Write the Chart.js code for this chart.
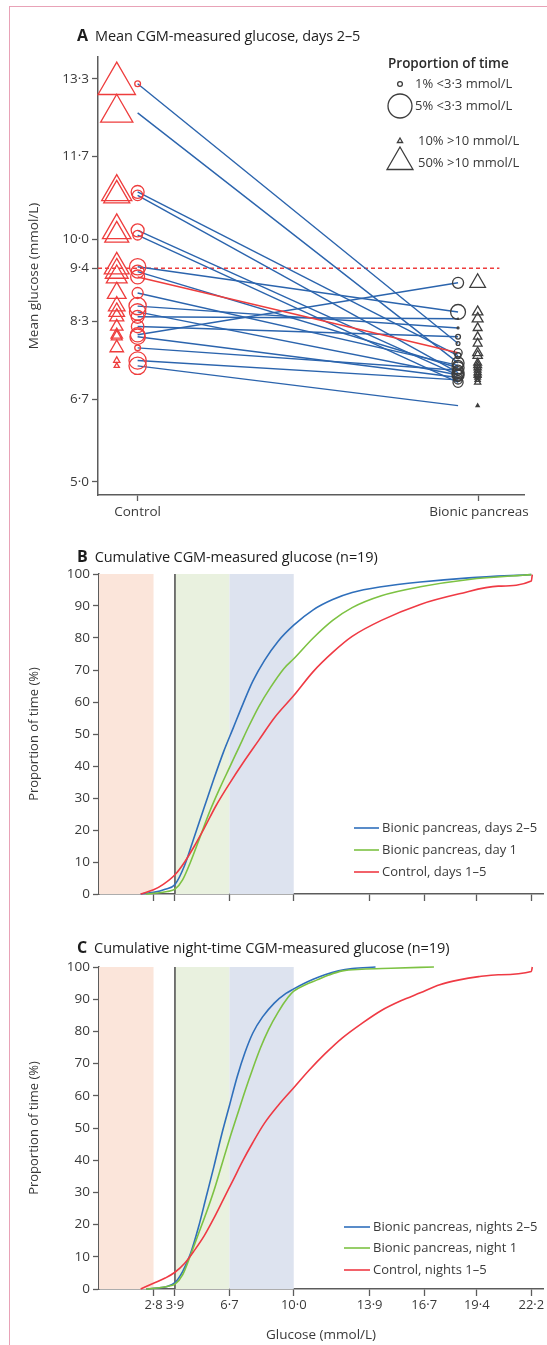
<!DOCTYPE html>
<html>
<head>
<meta charset="utf-8">
<script src="https://cdn.jsdelivr.net/npm/chart.js@4/dist/chart.umd.min.js"></script>
<style>
body{margin:0;background:#fff;width:547px;height:1345px;overflow:hidden;position:relative;font-family:"Open Sans",Lato,sans-serif;}
.frame{position:absolute;left:9px;top:6px;width:700px;height:1500px;border-left:1px solid #e8a2b7;border-top:1px solid #e8a2b7;}
canvas{position:absolute;left:0;}
.ttl{position:absolute;left:77px;font-size:14.5px;color:#1c1c1c;white-space:nowrap;line-height:18px;letter-spacing:-0.1px;}
.ttl b{font-size:16px;margin-right:7px;}
</style>
</head>
<body>
<div class="frame"></div>
<canvas id="cA" width="547" height="530" style="top:0"></canvas>
<canvas id="cB" width="547" height="355" style="top:560px"></canvas>
<canvas id="cC" width="547" height="395" style="top:950px"></canvas>
<div class="ttl" style="top:26px"><b>A</b>Mean CGM-measured glucose, days 2–5</div>
<div class="ttl" style="top:547px"><b>B</b>Cumulative CGM-measured glucose (n=19)</div>
<div class="ttl" style="top:938px"><b>C</b>Cumulative night-time CGM-measured glucose (n=19)</div>
<script>
// ---- panel A: one entry per participant ----
var ctrlMean  = [13.20, 12.60, 10.97, 10.90, 10.18, 10.08, 9.43, 9.33, 9.22, 8.89, 8.62, 8.50, 8.40, 8.20, 8.03, 7.99, 7.76, 7.50, 7.39];
var ctrlHypo  = [1.2, 0, 2.7, 2.2, 2.7, 2.0, 3.4, 2.7, 2.9, 2.3, 3.6, 3.4, 2.7, 2.6, 3.0, 3.2, 1.2, 3.6, 3.6];   // % time <3.3
var ctrlHyper = [72, 62, 58, 50, 55, 46, 48, 44, 40, 36, 32, 30, 27, 24, 22, 21, 26, 12, 10];               // % time >10
var bpMean    = [7.85, 7.45, 7.60, 7.25, 7.20, 7.05, 8.50, 7.35, 7.66, 7.40, 8.17, 7.20, 8.36, 7.99, 9.10, 7.15, 7.30, 7.10, 6.57];
var bpHypo    = [0.8, 2.5, 1.2, 2.5, 2.1, 2.1, 3.1, 2.5, 1.7, 2.1, 0.4, 2.5, 0.2, 1.0, 2.3, 1.7, 2.1, 1.7, 0];
var bpHyper   = [17, 15, 18, 14, 13, 12, 20, 14, 19, 15, 17, 13, 21, 16, 30, 11, 13, 10, 6];
var redIdx = 8;
var targetA = 9.4;
var yTicksA = [5.0, 6.7, 8.3, 9.4, 10.0, 11.7, 13.3];
var groupLabels = ['Control', 'Bionic pancreas'];
var legendHypo = [1, 5];
var legendHyper = [10, 50];

// ---- panels B and C: cumulative curves (glucose mmol/L, % of time) ----
var bDays25X = [2.14, 2.8, 3.4, 3.9, 4.4, 4.9, 5.4, 5.9, 6.4, 6.9, 7.4, 7.9, 8.5, 9.2, 10.0, 11.0, 12.0, 13.0, 14.5, 16.5, 19.0, 22.2];
var bDays25Y = [0, 0.5, 1.5, 3, 9, 18, 27, 36, 44.5, 52, 59.5, 66.5, 73, 79, 84, 88.8, 92, 94.2, 96, 97.5, 98.8, 99.8];
var bDay1X = [2.4, 3.0, 3.5, 3.9, 4.3, 4.7, 5.2, 5.7, 6.2, 6.7, 7.2, 7.7, 8.2, 8.8, 9.5, 10.0, 11.0, 12.0, 13.0, 14.5, 16.5, 19.0, 22.2];
var bDay1Y = [0, 0.3, 0.8, 1.5, 4.5, 10, 18, 26, 33, 39.5, 46, 52.5, 58.5, 64.5, 70.5, 73.5, 80, 85.5, 89.5, 93.2, 96, 98.3, 99.8];
var bCtrlX = [2.14, 2.8, 3.3, 3.9, 4.4, 4.9, 5.4, 6.0, 6.7, 7.4, 8.2, 9.0, 10.0, 11.0, 12.0, 13.0, 14.5, 16.5, 18.5, 20.5, 22.2, 22.25];
var bCtrlY = [0, 1.3, 3, 6, 10, 15, 20.5, 27.5, 34.5, 41, 48, 55, 62, 69.5, 75.5, 80.5, 85.5, 90.5, 93.8, 96.2, 97.8, 99.8];

var cNights25X = [2.42, 3.0, 3.5, 3.9, 4.3, 4.7, 5.1, 5.5, 5.9, 6.3, 6.7, 7.1, 7.5, 7.9, 8.4, 9.0, 9.6, 10.0, 10.5, 11.0, 11.6, 12.3, 13.0, 14.2];
var cNights25Y = [0, 0.3, 0.8, 2, 5.5, 11, 19, 28.5, 38, 48, 57, 66, 73.5, 79.5, 84.5, 88.8, 91.8, 93.2, 94.8, 96.2, 97.6, 98.8, 99.5, 100];
var cNight1X = [2.42, 3.0, 3.5, 3.9, 4.3, 4.7, 5.1, 5.5, 5.9, 6.3, 6.7, 7.1, 7.5, 7.9, 8.3, 8.7, 9.2, 9.7, 10.0, 10.6, 11.2, 11.8, 12.5, 13.5, 15.0, 17.2];
var cNight1Y = [0, 0.3, 0.8, 1.5, 4.5, 10.5, 17, 23.5, 30.5, 38.5, 46.5, 54, 61.5, 68.5, 75, 80.5, 86, 90.5, 92.5, 94.5, 96, 97.5, 98.8, 99.3, 99.6, 100];
var cCtrlX = [2.14, 2.8, 3.4, 3.9, 4.4, 4.9, 5.4, 5.9, 6.4, 6.9, 7.4, 7.9, 8.5, 9.2, 10.0, 10.8, 11.6, 12.5, 13.5, 14.5, 15.5, 16.5, 17.5, 18.5, 19.5, 20.5, 22.2, 22.25];
var cCtrlY = [0, 1.8, 3.4, 5.2, 8, 12, 16.5, 22, 28, 34, 40, 45.5, 51.5, 57, 62.5, 68, 73, 78, 82.5, 86.5, 89.5, 92, 94.5, 96, 97, 97.6, 98.6, 100];

var glucoseTicks = [2.8, 3.9, 6.7, 10.0, 13.9, 16.7, 19.4, 22.2];
var bandFrom = [0, 3.9, 6.7];
var bandTo = [2.8, 6.7, 10.0];
var lowLimit = 3.9;
var bLabels = ['Bionic pancreas, days 2–5', 'Bionic pancreas, day 1', 'Control, days 1–5'];
var cLabels = ['Bionic pancreas, nights 2–5', 'Bionic pancreas, night 1', 'Control, nights 1–5'];

// styles
var FONT = '"Open Sans", Lato, sans-serif';
var TXT = '#3a3a3a', AXIS = '#5c5c5c';
var BLUE = '#2b64ad', RED = '#ee3d3d', GREY = '#3d3d3d';
var curveColors = ['#2f6fbb', '#7dc243', '#ef3a44'];
var bandColors = ['#fbe5da', '#e9f1df', '#dde3ef'];

Chart.defaults.font.family = FONT;
Chart.defaults.color = TXT;
Chart.defaults.animation = false;
Chart.defaults.events = [];
Chart.defaults.plugins.legend.display = false;
Chart.defaults.plugins.tooltip.enabled = false;

function dot(v) { return v.toFixed(1).replace('.', '·'); }
function hypoR(p) { return p * 2.4; }
function hyperR(p) { return p * 0.3; }

// x positions of the marker columns in panel A (axis runs 0-100)
var xCtrlTri = 4.4, xCtrlCir = 9.3, xBpCir = 84.5, xBpTri = 89.1;
var groupTickPos = [9.3, 89.4];

function drawTri(ctx, x, y, r) {
  var a = 0;
  ctx.beginPath();
  for (var k = 0; k < 3; k++) {
    var px = x + Math.sin(a) * r, py = y - Math.cos(a) * r;
    if (k === 0) ctx.moveTo(px, py); else ctx.lineTo(px, py);
    a += Math.PI * 2 / 3;
  }
  ctx.closePath();
  ctx.stroke();
}

var legendA = {
  id: 'legendA',
  afterDraw: function(chart) {
    var ctx = chart.ctx;
    ctx.save();
    ctx.fillStyle = '#2a2a2a';
    ctx.textBaseline = 'middle';
    ctx.font = '600 13.5px ' + FONT;
    ctx.fillText('Proportion of time', 388, 64);
    ctx.font = '13px ' + FONT;
    ctx.fillStyle = TXT;
    ctx.strokeStyle = GREY;
    ctx.lineWidth = 1.3;
    var rows = [84, 106];
    legendHypo.forEach(function(p, i) {
      ctx.beginPath();
      ctx.arc(400, rows[i], hypoR(p), 0, Math.PI * 2);
      ctx.stroke();
      ctx.fillText(p + '% <3·3 mmol/L', 415, rows[i]);
    });
    var trows = [141, 163];
    legendHyper.forEach(function(p, i) {
      drawTri(ctx, 400, trows[i] - (i ? 1 : 0), hyperR(p));
      ctx.fillText(p + '% >10 mmol/L', 418, trows[i]);
    });
    ctx.restore();
  }
};

var dsA = [];
ctrlMean.forEach(function(v, i) {
  dsA.push({
    type: 'line',
    data: [{x: xCtrlCir, y: v}, {x: xBpCir, y: bpMean[i]}],
    borderColor: i === redIdx ? RED : BLUE,
    borderWidth: 1.4,
    pointRadius: 0,
    fill: false,
    order: i === redIdx ? 1 : 2
  });
});
dsA.push({
  type: 'line',
  data: [{x: 0, y: targetA}, {x: 94.2, y: targetA}],
  borderColor: RED, borderWidth: 1.3, borderDash: [4, 3], pointRadius: 0, order: 3
});
function markers(xPos, vals, sizes, style, col) {
  return {
    type: 'scatter',
    data: vals.map(function(v) { return {x: xPos, y: v}; }),
    pointStyle: style,
    pointRadius: sizes,
    pointBorderColor: col,
    pointBackgroundColor: 'rgba(0,0,0,0)',
    pointBorderWidth: 1.3,
    clip: false,
    order: 0
  };
}
dsA.push(markers(xCtrlCir, ctrlMean, ctrlHypo.map(hypoR), 'circle', RED));
dsA.push(markers(xCtrlTri, ctrlMean, ctrlHyper.map(hyperR), 'triangle', RED));
dsA.push(markers(xBpCir, bpMean, bpHypo.map(hypoR), 'circle', GREY));
dsA.push(markers(xBpTri, bpMean, bpHyper.map(hyperR), 'triangle', GREY));

new Chart('cA', {
  type: 'scatter',
  data: {datasets: dsA},
  plugins: [legendA],
  options: {
    responsive: false,
    layout: {padding: {top: 57, right: 17, left: 0, bottom: 0}},
    scales: {
      x: {
        type: 'linear', min: 0, max: 100,
        afterBuildTicks: function(s) { s.ticks = groupTickPos.map(function(v) { return {value: v}; }); },
        afterFit: function(s) { s.height = 35; },
        ticks: {autoSkip: false, maxRotation: 0, padding: 3, font: {size: 13.5}, color: TXT,
          callback: function(v, i) { return groupLabels[i]; }},
        grid: {drawOnChartArea: false, tickLength: 6, color: AXIS, tickWidth: 1.3},
        border: {color: AXIS, width: 1.5}
      },
      y: {
        min: 4.73, max: 13.75,
        afterBuildTicks: function(s) { s.ticks = yTicksA.map(function(v) { return {value: v}; }); },
        afterFit: function(s) { s.width = 98; },
        ticks: {autoSkip: false, padding: 3, font: {size: 13.5}, color: TXT, callback: function(v) { return dot(v); }},
        grid: {drawOnChartArea: false, tickLength: 6, color: AXIS, tickWidth: 1.3},
        border: {color: AXIS, width: 1.5},
        title: {display: true, text: 'Mean glucose (mmol/L)', font: {size: 13.5}, color: TXT, padding: {top: 26}}
      }
    }
  }
});

// ---- cumulative panels ----
var bands = {
  id: 'bands',
  beforeDatasetsDraw: function(chart) {
    var ctx = chart.ctx, xs = chart.scales.x, a = chart.chartArea;
    ctx.save();
    bandFrom.forEach(function(f, i) {
      var x0 = xs.getPixelForValue(f), x1 = xs.getPixelForValue(bandTo[i]);
      ctx.fillStyle = bandColors[i];
      ctx.fillRect(x0, a.top, x1 - x0, a.bottom - a.top);
    });
    var lx = xs.getPixelForValue(lowLimit);
    ctx.strokeStyle = '#555';
    ctx.lineWidth = 1.6;
    ctx.beginPath();
    ctx.moveTo(lx, a.top);
    ctx.lineTo(lx, a.bottom);
    ctx.stroke();
    ctx.restore();
  }
};

function lineLegend(id, labels, lx0, lx1, tx, rows) {
  return {
    id: id,
    afterDraw: function(chart) {
      var ctx = chart.ctx;
      ctx.save();
      ctx.font = '13px ' + FONT;
      ctx.textBaseline = 'middle';
      labels.forEach(function(t, i) {
        ctx.strokeStyle = curveColors[i];
        ctx.lineWidth = 1.6;
        ctx.beginPath();
        ctx.moveTo(lx0, rows[i]);
        ctx.lineTo(lx1, rows[i]);
        ctx.stroke();
        ctx.fillStyle = TXT;
        ctx.fillText(t, tx, rows[i]);
      });
      ctx.restore();
    }
  };
}

function curve(xs, ys, i) {
  return {
    type: 'line',
    data: xs.map(function(x, k) { return {x: x, y: ys[k]}; }),
    borderColor: curveColors[i],
    borderWidth: 1.6,
    pointRadius: 0,
    cubicInterpolationMode: 'monotone',
    clip: false,
    fill: false
  };
}

function cumChart(id, sets, padTop, xHeight, showLabels, legendPlugin) {
  return new Chart(id, {
    type: 'scatter',
    data: {datasets: sets},
    plugins: [bands, legendPlugin],
    options: {
      responsive: false,
      layout: {padding: {top: padTop, right: 4, left: 0, bottom: 0}},
      scales: {
        x: {
          type: 'linear', min: 0, max: 22.8,
          afterBuildTicks: function(s) { s.ticks = glucoseTicks.map(function(v) { return {value: v}; }); },
          afterFit: function(s) { s.height = xHeight; },
          ticks: {autoSkip: false, maxRotation: 0, padding: 1, font: {size: 13}, color: TXT,
            callback: function(v) { return showLabels ? dot(v) : ''; }},
          grid: {drawOnChartArea: false, tickLength: 7, color: AXIS, tickWidth: 1.3},
          border: {color: AXIS, width: 1.5},
          title: {display: showLabels, text: 'Glucose (mmol/L)', font: {size: 13.5}, color: TXT, padding: {top: 0, bottom: 2}}
        },
        y: {
          min: 0, max: 100,
          afterFit: function(s) { s.width = 99; },
          ticks: {stepSize: 10, padding: 3, font: {size: 13.5}, color: TXT},
          grid: {drawOnChartArea: false, tickLength: 6, color: AXIS, tickWidth: 1.3},
          border: {color: AXIS, width: 1.5},
          title: {display: true, text: 'Proportion of time (%)', font: {size: 13}, color: TXT, padding: {top: 26}}
        }
      }
    }
  });
}

cumChart('cB', [
  curve(bCtrlX, bCtrlY, 2),
  curve(bDay1X, bDay1Y, 1),
  curve(bDays25X, bDays25Y, 0)
], 14, 21, false, lineLegend('legB', bLabels, 354, 379, 382, [268, 290, 312]));

cumChart('cC', [
  curve(cCtrlX, cCtrlY, 2),
  curve(cNight1X, cNight1Y, 1),
  curve(cNights25X, cNights25Y, 0)
], 17, 56, true, lineLegend('legC', cLabels, 344, 370, 373, [277, 298, 320]));
</script>
</body>
</html>
